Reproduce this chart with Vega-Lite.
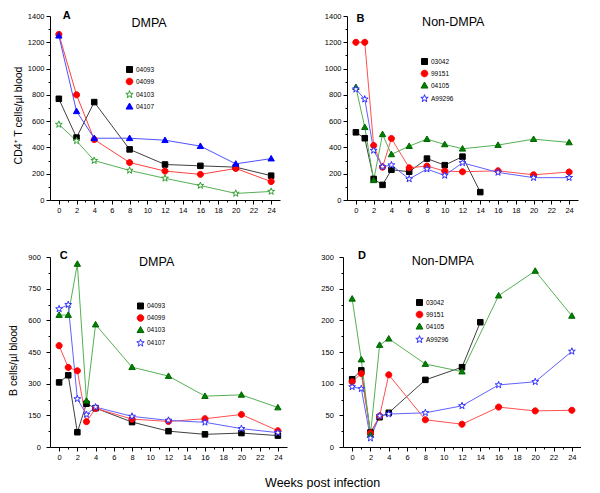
{
  "$schema": "https://vega.github.io/schema/vega-lite/v6.json",
  "padding": {"left": 8, "top": 10, "right": 0, "bottom": 0},
  "config": {
    "view": {"stroke": null},
    "font": "Liberation Sans",
    "axis": {"grid": false, "domainColor": "#000", "tickColor": "#000", "labelColor": "#000", "titleColor": "#000", "labelFontSize": 7.5, "titleFontSize": 10.5, "titleFontWeight": "normal", "labelFont": "Liberation Sans", "titleFont": "Liberation Sans", "tickSize": 4, "labelPadding": 2, "domainWidth": 1, "tickWidth": 1, "labelFlush": false, "labelOverlap": false, "format": "d"},
    "legend": {"orient": "none", "labelFontSize": 6.5, "labelFont": "Liberation Sans", "labelColor": "#000", "symbolStrokeWidth": 1, "rowPadding": 1, "padding": 0, "labelOffset": 1}
  },
  "title": {"text": "Weeks post infection", "orient": "bottom", "anchor": "middle", "dx": 28, "offset": 16, "fontSize": 12.5, "fontWeight": "normal", "font": "Liberation Sans", "color": "#000"},
  "datasets": {
    "A": [
      {"id": "04093", "w": 0, "v": 770}, {"id": "04093", "w": 2, "v": 475}, {"id": "04093", "w": 4, "v": 745}, {"id": "04093", "w": 8, "v": 385}, {"id": "04093", "w": 12, "v": 270}, {"id": "04093", "w": 16, "v": 260}, {"id": "04093", "w": 20, "v": 250}, {"id": "04093", "w": 24, "v": 185},
      {"id": "04099", "w": 0, "v": 1260}, {"id": "04099", "w": 2, "v": 800}, {"id": "04099", "w": 4, "v": 460}, {"id": "04099", "w": 8, "v": 285}, {"id": "04099", "w": 12, "v": 220}, {"id": "04099", "w": 16, "v": 195}, {"id": "04099", "w": 20, "v": 240}, {"id": "04099", "w": 24, "v": 140},
      {"id": "04103", "w": 0, "v": 575}, {"id": "04103", "w": 2, "v": 450}, {"id": "04103", "w": 4, "v": 300}, {"id": "04103", "w": 8, "v": 225}, {"id": "04103", "w": 12, "v": 165}, {"id": "04103", "w": 16, "v": 110}, {"id": "04103", "w": 20, "v": 50}, {"id": "04103", "w": 24, "v": 65},
      {"id": "04107", "w": 0, "v": 1250}, {"id": "04107", "w": 2, "v": 675}, {"id": "04107", "w": 4, "v": 470}, {"id": "04107", "w": 8, "v": 470}, {"id": "04107", "w": 12, "v": 455}, {"id": "04107", "w": 16, "v": 410}, {"id": "04107", "w": 20, "v": 275}, {"id": "04107", "w": 24, "v": 315}
    ],
    "B": [
      {"id": "03042", "w": 0, "v": 515}, {"id": "03042", "w": 1, "v": 470}, {"id": "03042", "w": 2, "v": 160}, {"id": "03042", "w": 3, "v": 115}, {"id": "03042", "w": 4, "v": 230}, {"id": "03042", "w": 6, "v": 215}, {"id": "03042", "w": 8, "v": 315}, {"id": "03042", "w": 10, "v": 265}, {"id": "03042", "w": 12, "v": 330}, {"id": "03042", "w": 14, "v": 60},
      {"id": "99151", "w": 0, "v": 1200}, {"id": "99151", "w": 1, "v": 1200}, {"id": "99151", "w": 2, "v": 415}, {"id": "99151", "w": 3, "v": 250}, {"id": "99151", "w": 4, "v": 468}, {"id": "99151", "w": 6, "v": 245}, {"id": "99151", "w": 8, "v": 258}, {"id": "99151", "w": 10, "v": 220}, {"id": "99151", "w": 12, "v": 215}, {"id": "99151", "w": 16, "v": 222}, {"id": "99151", "w": 20, "v": 192}, {"id": "99151", "w": 24, "v": 213},
      {"id": "04105", "w": 0, "v": 858}, {"id": "04105", "w": 1, "v": 554}, {"id": "04105", "w": 2, "v": 150}, {"id": "04105", "w": 3, "v": 500}, {"id": "04105", "w": 4, "v": 347}, {"id": "04105", "w": 6, "v": 410}, {"id": "04105", "w": 8, "v": 463}, {"id": "04105", "w": 10, "v": 423}, {"id": "04105", "w": 12, "v": 390}, {"id": "04105", "w": 16, "v": 418}, {"id": "04105", "w": 20, "v": 463}, {"id": "04105", "w": 24, "v": 438},
      {"id": "A99296", "w": 0, "v": 843}, {"id": "A99296", "w": 1, "v": 767}, {"id": "A99296", "w": 2, "v": 377}, {"id": "A99296", "w": 3, "v": 253}, {"id": "A99296", "w": 4, "v": 266}, {"id": "A99296", "w": 6, "v": 160}, {"id": "A99296", "w": 8, "v": 235}, {"id": "A99296", "w": 10, "v": 187}, {"id": "A99296", "w": 12, "v": 283}, {"id": "A99296", "w": 16, "v": 210}, {"id": "A99296", "w": 20, "v": 170}, {"id": "A99296", "w": 24, "v": 170}
    ],
    "C": [
      {"id": "04093", "w": 0, "v": 306}, {"id": "04093", "w": 1, "v": 340}, {"id": "04093", "w": 2, "v": 70}, {"id": "04093", "w": 3, "v": 205}, {"id": "04093", "w": 4, "v": 184}, {"id": "04093", "w": 8, "v": 118}, {"id": "04093", "w": 12, "v": 75}, {"id": "04093", "w": 16, "v": 60}, {"id": "04093", "w": 20, "v": 66}, {"id": "04093", "w": 24, "v": 54},
      {"id": "04099", "w": 0, "v": 480}, {"id": "04099", "w": 1, "v": 377}, {"id": "04099", "w": 2, "v": 361}, {"id": "04099", "w": 3, "v": 120}, {"id": "04099", "w": 4, "v": 183}, {"id": "04099", "w": 8, "v": 132}, {"id": "04099", "w": 12, "v": 121}, {"id": "04099", "w": 16, "v": 134}, {"id": "04099", "w": 20, "v": 154}, {"id": "04099", "w": 24, "v": 77},
      {"id": "04103", "w": 0, "v": 625}, {"id": "04103", "w": 1, "v": 625}, {"id": "04103", "w": 2, "v": 867}, {"id": "04103", "w": 3, "v": 219}, {"id": "04103", "w": 4, "v": 580}, {"id": "04103", "w": 8, "v": 378}, {"id": "04103", "w": 12, "v": 336}, {"id": "04103", "w": 16, "v": 241}, {"id": "04103", "w": 20, "v": 247}, {"id": "04103", "w": 24, "v": 187},
      {"id": "04107", "w": 0, "v": 654}, {"id": "04107", "w": 1, "v": 674}, {"id": "04107", "w": 2, "v": 228}, {"id": "04107", "w": 3, "v": 154}, {"id": "04107", "w": 4, "v": 189}, {"id": "04107", "w": 8, "v": 145}, {"id": "04107", "w": 12, "v": 126}, {"id": "04107", "w": 16, "v": 117}, {"id": "04107", "w": 20, "v": 87}, {"id": "04107", "w": 24, "v": 68}
    ],
    "D": [
      {"id": "03042", "w": 0, "v": 107}, {"id": "03042", "w": 1, "v": 121}, {"id": "03042", "w": 2, "v": 23}, {"id": "03042", "w": 3, "v": 47}, {"id": "03042", "w": 4, "v": 54}, {"id": "03042", "w": 8, "v": 106}, {"id": "03042", "w": 12, "v": 126}, {"id": "03042", "w": 14, "v": 197},
      {"id": "99151", "w": 0, "v": 103}, {"id": "99151", "w": 1, "v": 116}, {"id": "99151", "w": 2, "v": 22}, {"id": "99151", "w": 3, "v": 49}, {"id": "99151", "w": 4, "v": 114}, {"id": "99151", "w": 8, "v": 43}, {"id": "99151", "w": 12, "v": 36}, {"id": "99151", "w": 16, "v": 63}, {"id": "99151", "w": 20, "v": 57}, {"id": "99151", "w": 24, "v": 58},
      {"id": "04105", "w": 0, "v": 234}, {"id": "04105", "w": 1, "v": 138}, {"id": "04105", "w": 2, "v": 19}, {"id": "04105", "w": 3, "v": 161}, {"id": "04105", "w": 4, "v": 171}, {"id": "04105", "w": 8, "v": 131}, {"id": "04105", "w": 12, "v": 119}, {"id": "04105", "w": 16, "v": 239}, {"id": "04105", "w": 20, "v": 278}, {"id": "04105", "w": 24, "v": 207},
      {"id": "A99296", "w": 0, "v": 95}, {"id": "A99296", "w": 1, "v": 92}, {"id": "A99296", "w": 2, "v": 14}, {"id": "A99296", "w": 3, "v": 49}, {"id": "A99296", "w": 4, "v": 52}, {"id": "A99296", "w": 8, "v": 54}, {"id": "A99296", "w": 12, "v": 65}, {"id": "A99296", "w": 16, "v": 98}, {"id": "A99296", "w": 20, "v": 103}, {"id": "A99296", "w": 24, "v": 151}
    ]
  },
  "spacing": 35,
  "resolve": {"scale": {"color": "independent", "shape": "independent", "fill": "independent", "stroke": "independent"}, "legend": {"color": "independent", "shape": "independent", "fill": "independent", "stroke": "independent"}},
  "vconcat": [
    {
      "spacing": 44,
      "resolve": {"scale": {"color": "independent", "shape": "independent", "fill": "independent", "stroke": "independent"}, "legend": {"color": "independent", "shape": "independent", "fill": "independent", "stroke": "independent"}},
      "hconcat": [
        {
          "width": 230, "height": 184,
          "layer": [
            {
              "data": {"name": "A"},
              "mark": {"type": "line", "strokeWidth": 1},
              "encoding": {
                "x": {"field": "w", "type": "quantitative", "scale": {"domain": [-1, 25], "nice": false, "zero": false}, "axis": {"title": null, "values": [0,1,2,3,4,5,6,7,8,9,10,11,12,13,14,15,16,17,18,19,20,21,22,23,24], "labelExpr": "datum.value % 2 ? '' : datum.label", "tickSize": {"condition": {"test": "datum.value % 2", "value": 2}, "value": 4}}},
                "y": {"field": "v", "type": "quantitative", "scale": {"domain": [0, 1400], "nice": false}, "axis": {"title": "CD4⁺ T cells/µl blood", "titlePadding": 4, "titleY": 99, "values": [0,100,200,300,400,500,600,700,800,900,1000,1100,1200,1300,1400], "labelExpr": "datum.value % 200 ? '' : datum.label", "tickSize": {"condition": {"test": "datum.value % 200", "value": 2}, "value": 4}}},
                "color": {"field": "id", "type": "nominal", "scale": {"domain": ["04093", "04099", "04103", "04107", "~"], "range": ["#404040", "#ff4040", "#55b055", "#5050ff", "transparent"]}, "legend": null}
              }
            },
            {
              "data": {"name": "A"},
              "mark": {"type": "point", "size": 85, "strokeWidth": 1, "opacity": 1, "filled": true},
              "encoding": {
                "x": {"field": "w", "type": "quantitative", "scale": {"domain": [-1, 25], "nice": false, "zero": false}, "axis": {"title": null, "values": [0,1,2,3,4,5,6,7,8,9,10,11,12,13,14,15,16,17,18,19,20,21,22,23,24], "labelExpr": "datum.value % 2 ? '' : datum.label", "tickSize": {"condition": {"test": "datum.value % 2", "value": 2}, "value": 4}}},
                "y": {"field": "v", "type": "quantitative", "scale": {"domain": [0, 1400], "nice": false}, "axis": {"title": "CD4⁺ T cells/µl blood", "titlePadding": 4, "titleY": 99, "values": [0,100,200,300,400,500,600,700,800,900,1000,1100,1200,1300,1400], "labelExpr": "datum.value % 200 ? '' : datum.label", "tickSize": {"condition": {"test": "datum.value % 200", "value": 2}, "value": 4}}},
                "shape": {"field": "id", "type": "nominal", "scale": {"domain": ["04093", "04099", "04103", "04107"], "range": ["M-0.6,-0.6H0.6V0.6H-0.6Z", "M-0.66,0A0.66,0.66,0,1,0,0.66,0A0.66,0.66,0,1,0,-0.66,0Z", "M0,-0.78L0.18,-0.25L0.74,-0.24L0.29,0.1L0.46,0.63L0,0.31L-0.46,0.63L-0.29,0.1L-0.74,-0.24L-0.18,-0.25Z", "M0,-0.69L0.69,0.51H-0.69Z"]}, "legend": {"title": null, "legendX": 74, "legendY": 48}},
                "fill": {"field": "id", "type": "nominal", "scale": {"domain": ["04093", "04099", "04103", "04107"], "range": ["#000000", "#ff0000", "#ffffff", "#0000ff"]}, "legend": {"title": null, "legendX": 74, "legendY": 48}},
                "stroke": {"field": "id", "type": "nominal", "scale": {"domain": ["04093", "04099", "04103", "04107"], "range": ["#000000", "#ff0000", "#33a033", "#0000ff"]}, "legend": {"title": null, "legendX": 74, "legendY": 48}}
              }
            },
            {"data": {"values": [{}]}, "mark": {"type": "text", "text": "A", "fontSize": 11, "fontWeight": "bold", "align": "left", "baseline": "alphabetic", "color": "#000"}, "encoding": {"x": {"datum": 0.45, "type": "quantitative", "scale": {"domain": [-1, 25], "nice": false, "zero": false}, "axis": {"title": null, "values": [0,1,2,3,4,5,6,7,8,9,10,11,12,13,14,15,16,17,18,19,20,21,22,23,24], "labelExpr": "datum.value % 2 ? '' : datum.label", "tickSize": {"condition": {"test": "datum.value % 2", "value": 2}, "value": 4}}}, "y": {"datum": 1377, "type": "quantitative", "scale": {"domain": [0, 1400], "nice": false}, "axis": {"title": "CD4⁺ T cells/µl blood", "titlePadding": 4, "titleY": 99, "values": [0,100,200,300,400,500,600,700,800,900,1000,1100,1200,1300,1400], "labelExpr": "datum.value % 200 ? '' : datum.label", "tickSize": {"condition": {"test": "datum.value % 200", "value": 2}, "value": 4}}}}},
            {"data": {"values": [{}]}, "mark": {"type": "text", "text": "DMPA", "fontSize": 12.5, "align": "center", "baseline": "alphabetic", "color": "#000"}, "encoding": {"x": {"datum": 10.2, "type": "quantitative", "scale": {"domain": [-1, 25], "nice": false, "zero": false}, "axis": {"title": null, "values": [0,1,2,3,4,5,6,7,8,9,10,11,12,13,14,15,16,17,18,19,20,21,22,23,24], "labelExpr": "datum.value % 2 ? '' : datum.label", "tickSize": {"condition": {"test": "datum.value % 2", "value": 2}, "value": 4}}}, "y": {"datum": 1313, "type": "quantitative", "scale": {"domain": [0, 1400], "nice": false}, "axis": {"title": "CD4⁺ T cells/µl blood", "titlePadding": 4, "titleY": 99, "values": [0,100,200,300,400,500,600,700,800,900,1000,1100,1200,1300,1400], "labelExpr": "datum.value % 200 ? '' : datum.label", "tickSize": {"condition": {"test": "datum.value % 200", "value": 2}, "value": 4}}}}}
          ]
        },
        {
          "width": 231, "height": 184,
          "layer": [
            {
              "data": {"name": "B"},
              "mark": {"type": "line", "strokeWidth": 1},
              "encoding": {
                "x": {"field": "w", "type": "quantitative", "scale": {"domain": [-1, 25], "nice": false, "zero": false}, "axis": {"title": null, "values": [0,1,2,3,4,5,6,7,8,9,10,11,12,13,14,15,16,17,18,19,20,21,22,23,24], "labelExpr": "datum.value % 2 ? '' : datum.label", "tickSize": {"condition": {"test": "datum.value % 2", "value": 2}, "value": 4}}},
                "y": {"field": "v", "type": "quantitative", "scale": {"domain": [0, 1400], "nice": false}, "axis": {"title": null, "values": [0,100,200,300,400,500,600,700,800,900,1000,1100,1200,1300,1400], "labelExpr": "datum.value % 200 ? '' : datum.label", "tickSize": {"condition": {"test": "datum.value % 200", "value": 2}, "value": 4}}},
                "color": {"field": "id", "type": "nominal", "scale": {"domain": ["03042", "99151", "04105", "A99296", "~"], "range": ["#404040", "#ff5050", "#55b055", "#6060ff", "transparent"]}, "legend": null}
              }
            },
            {
              "data": {"name": "B"},
              "mark": {"type": "point", "size": 85, "strokeWidth": 1, "opacity": 1, "filled": true},
              "encoding": {
                "x": {"field": "w", "type": "quantitative", "scale": {"domain": [-1, 25], "nice": false, "zero": false}, "axis": {"title": null, "values": [0,1,2,3,4,5,6,7,8,9,10,11,12,13,14,15,16,17,18,19,20,21,22,23,24], "labelExpr": "datum.value % 2 ? '' : datum.label", "tickSize": {"condition": {"test": "datum.value % 2", "value": 2}, "value": 4}}},
                "y": {"field": "v", "type": "quantitative", "scale": {"domain": [0, 1400], "nice": false}, "axis": {"title": null, "values": [0,100,200,300,400,500,600,700,800,900,1000,1100,1200,1300,1400], "labelExpr": "datum.value % 200 ? '' : datum.label", "tickSize": {"condition": {"test": "datum.value % 200", "value": 2}, "value": 4}}},
                "shape": {"field": "id", "type": "nominal", "scale": {"domain": ["03042", "99151", "04105", "A99296"], "range": ["M-0.6,-0.6H0.6V0.6H-0.6Z", "M-0.66,0A0.66,0.66,0,1,0,0.66,0A0.66,0.66,0,1,0,-0.66,0Z", "M0,-0.69L0.69,0.51H-0.69Z", "M0,-0.78L0.18,-0.25L0.74,-0.24L0.29,0.1L0.46,0.63L0,0.31L-0.46,0.63L-0.29,0.1L-0.74,-0.24L-0.18,-0.25Z"]}, "legend": {"title": null, "legendX": 72, "legendY": 40}},
                "fill": {"field": "id", "type": "nominal", "scale": {"domain": ["03042", "99151", "04105", "A99296"], "range": ["#000000", "#ff0000", "#008000", "#ffffff"]}, "legend": {"title": null, "legendX": 72, "legendY": 40}},
                "stroke": {"field": "id", "type": "nominal", "scale": {"domain": ["03042", "99151", "04105", "A99296"], "range": ["#000000", "#ff0000", "#006600", "#3030ff"]}, "legend": {"title": null, "legendX": 72, "legendY": 40}}
              }
            },
            {"data": {"values": [{}]}, "mark": {"type": "text", "text": "B", "fontSize": 11, "fontWeight": "bold", "align": "left", "baseline": "alphabetic", "color": "#000"}, "encoding": {"x": {"datum": 0.08, "type": "quantitative", "scale": {"domain": [-1, 25], "nice": false, "zero": false}, "axis": {"title": null, "values": [0,1,2,3,4,5,6,7,8,9,10,11,12,13,14,15,16,17,18,19,20,21,22,23,24], "labelExpr": "datum.value % 2 ? '' : datum.label", "tickSize": {"condition": {"test": "datum.value % 2", "value": 2}, "value": 4}}}, "y": {"datum": 1357, "type": "quantitative", "scale": {"domain": [0, 1400], "nice": false}, "axis": {"title": null, "values": [0,100,200,300,400,500,600,700,800,900,1000,1100,1200,1300,1400], "labelExpr": "datum.value % 200 ? '' : datum.label", "tickSize": {"condition": {"test": "datum.value % 200", "value": 2}, "value": 4}}}}},
            {"data": {"values": [{}]}, "mark": {"type": "text", "text": "Non-DMPA", "fontSize": 12.5, "align": "center", "baseline": "alphabetic", "color": "#000"}, "encoding": {"x": {"datum": 10.96, "type": "quantitative", "scale": {"domain": [-1, 25], "nice": false, "zero": false}, "axis": {"title": null, "values": [0,1,2,3,4,5,6,7,8,9,10,11,12,13,14,15,16,17,18,19,20,21,22,23,24], "labelExpr": "datum.value % 2 ? '' : datum.label", "tickSize": {"condition": {"test": "datum.value % 2", "value": 2}, "value": 4}}}, "y": {"datum": 1324, "type": "quantitative", "scale": {"domain": [0, 1400], "nice": false}, "axis": {"title": null, "values": [0,100,200,300,400,500,600,700,800,900,1000,1100,1200,1300,1400], "labelExpr": "datum.value % 200 ? '' : datum.label", "tickSize": {"condition": {"test": "datum.value % 200", "value": 2}, "value": 4}}}}}
          ]
        }
      ]
    },
    {
      "spacing": 33,
      "resolve": {"scale": {"color": "independent", "shape": "independent", "fill": "independent", "stroke": "independent"}, "legend": {"color": "independent", "shape": "independent", "fill": "independent", "stroke": "independent"}},
      "hconcat": [
        {
          "width": 237, "height": 190,
          "layer": [
            {
              "data": {"name": "C"},
              "mark": {"type": "line", "strokeWidth": 1},
              "encoding": {
                "x": {"field": "w", "type": "quantitative", "scale": {"domain": [-1, 25], "nice": false, "zero": false}, "axis": {"title": null, "values": [0,1,2,3,4,5,6,7,8,9,10,11,12,13,14,15,16,17,18,19,20,21,22,23,24], "labelExpr": "datum.value % 2 ? '' : datum.label", "tickSize": {"condition": {"test": "datum.value % 2", "value": 2}, "value": 4}}},
                "y": {"field": "v", "type": "quantitative", "scale": {"domain": [0, 900], "nice": false}, "axis": {"title": "B cells/µl blood", "titlePadding": 9.5, "titleY": 103, "labelPadding": 5.7, "values": [0,75,150,225,300,375,450,525,600,675,750,825,900], "labelExpr": "datum.value % 150 ? '' : datum.label", "tickSize": {"condition": {"test": "datum.value % 150", "value": 2}, "value": 4}}},
                "color": {"field": "id", "type": "nominal", "scale": {"domain": ["04093", "04099", "04103", "04107", "~"], "range": ["#404040", "#ff5050", "#55b055", "#6060ff", "transparent"]}, "legend": null}
              }
            },
            {
              "data": {"name": "C"},
              "mark": {"type": "point", "size": 85, "strokeWidth": 1, "opacity": 1, "filled": true},
              "encoding": {
                "x": {"field": "w", "type": "quantitative", "scale": {"domain": [-1, 25], "nice": false, "zero": false}, "axis": {"title": null, "values": [0,1,2,3,4,5,6,7,8,9,10,11,12,13,14,15,16,17,18,19,20,21,22,23,24], "labelExpr": "datum.value % 2 ? '' : datum.label", "tickSize": {"condition": {"test": "datum.value % 2", "value": 2}, "value": 4}}},
                "y": {"field": "v", "type": "quantitative", "scale": {"domain": [0, 900], "nice": false}, "axis": {"title": "B cells/µl blood", "titlePadding": 9.5, "titleY": 103, "labelPadding": 5.7, "values": [0,75,150,225,300,375,450,525,600,675,750,825,900], "labelExpr": "datum.value % 150 ? '' : datum.label", "tickSize": {"condition": {"test": "datum.value % 150", "value": 2}, "value": 4}}},
                "shape": {"field": "id", "type": "nominal", "scale": {"domain": ["04093", "04099", "04103", "04107"], "range": ["M-0.6,-0.6H0.6V0.6H-0.6Z", "M-0.66,0A0.66,0.66,0,1,0,0.66,0A0.66,0.66,0,1,0,-0.66,0Z", "M0,-0.69L0.69,0.51H-0.69Z", "M0,-0.78L0.18,-0.25L0.74,-0.24L0.29,0.1L0.46,0.63L0,0.31L-0.46,0.63L-0.29,0.1L-0.74,-0.24L-0.18,-0.25Z"]}, "legend": {"title": null, "legendX": 85, "legendY": 43.5}},
                "fill": {"field": "id", "type": "nominal", "scale": {"domain": ["04093", "04099", "04103", "04107"], "range": ["#000000", "#ff0000", "#008000", "#ffffff"]}, "legend": {"title": null, "legendX": 85, "legendY": 43.5}},
                "stroke": {"field": "id", "type": "nominal", "scale": {"domain": ["04093", "04099", "04103", "04107"], "range": ["#000000", "#ff0000", "#006600", "#3030ff"]}, "legend": {"title": null, "legendX": 85, "legendY": 43.5}}
              }
            },
            {"data": {"values": [{}]}, "mark": {"type": "text", "text": "C", "fontSize": 11, "fontWeight": "bold", "align": "left", "baseline": "alphabetic", "color": "#000"}, "encoding": {"x": {"datum": 0.08, "type": "quantitative", "scale": {"domain": [-1, 25], "nice": false, "zero": false}, "axis": {"title": null, "values": [0,1,2,3,4,5,6,7,8,9,10,11,12,13,14,15,16,17,18,19,20,21,22,23,24], "labelExpr": "datum.value % 2 ? '' : datum.label", "tickSize": {"condition": {"test": "datum.value % 2", "value": 2}, "value": 4}}}, "y": {"datum": 889, "type": "quantitative", "scale": {"domain": [0, 900], "nice": false}, "axis": {"title": "B cells/µl blood", "titlePadding": 9.5, "titleY": 103, "labelPadding": 5.7, "values": [0,75,150,225,300,375,450,525,600,675,750,825,900], "labelExpr": "datum.value % 150 ? '' : datum.label", "tickSize": {"condition": {"test": "datum.value % 150", "value": 2}, "value": 4}}}}},
            {"data": {"values": [{}]}, "mark": {"type": "text", "text": "DMPA", "fontSize": 12.5, "align": "center", "baseline": "alphabetic", "color": "#000"}, "encoding": {"x": {"datum": 10.7, "type": "quantitative", "scale": {"domain": [-1, 25], "nice": false, "zero": false}, "axis": {"title": null, "values": [0,1,2,3,4,5,6,7,8,9,10,11,12,13,14,15,16,17,18,19,20,21,22,23,24], "labelExpr": "datum.value % 2 ? '' : datum.label", "tickSize": {"condition": {"test": "datum.value % 2", "value": 2}, "value": 4}}}, "y": {"datum": 856, "type": "quantitative", "scale": {"domain": [0, 900], "nice": false}, "axis": {"title": "B cells/µl blood", "titlePadding": 9.5, "titleY": 103, "labelPadding": 5.7, "values": [0,75,150,225,300,375,450,525,600,675,750,825,900], "labelExpr": "datum.value % 150 ? '' : datum.label", "tickSize": {"condition": {"test": "datum.value % 150", "value": 2}, "value": 4}}}}}
          ]
        },
        {
          "width": 238, "height": 190,
          "layer": [
            {
              "data": {"name": "D"},
              "mark": {"type": "line", "strokeWidth": 1},
              "encoding": {
                "x": {"field": "w", "type": "quantitative", "scale": {"domain": [-1, 25], "nice": false, "zero": false}, "axis": {"title": null, "values": [0,1,2,3,4,5,6,7,8,9,10,11,12,13,14,15,16,17,18,19,20,21,22,23,24], "labelExpr": "datum.value % 2 ? '' : datum.label", "tickSize": {"condition": {"test": "datum.value % 2", "value": 2}, "value": 4}}},
                "y": {"field": "v", "type": "quantitative", "scale": {"domain": [0, 300], "nice": false}, "axis": {"title": null, "labelPadding": 5.7, "values": [0,25,50,75,100,125,150,175,200,225,250,275,300], "labelExpr": "datum.value % 50 ? '' : datum.label", "tickSize": {"condition": {"test": "datum.value % 50", "value": 2}, "value": 4}}},
                "color": {"field": "id", "type": "nominal", "scale": {"domain": ["03042", "99151", "04105", "A99296", "~"], "range": ["#404040", "#ff5050", "#55b055", "#6060ff", "transparent"]}, "legend": null}
              }
            },
            {
              "data": {"name": "D"},
              "mark": {"type": "point", "size": 85, "strokeWidth": 1, "opacity": 1, "filled": true},
              "encoding": {
                "x": {"field": "w", "type": "quantitative", "scale": {"domain": [-1, 25], "nice": false, "zero": false}, "axis": {"title": null, "values": [0,1,2,3,4,5,6,7,8,9,10,11,12,13,14,15,16,17,18,19,20,21,22,23,24], "labelExpr": "datum.value % 2 ? '' : datum.label", "tickSize": {"condition": {"test": "datum.value % 2", "value": 2}, "value": 4}}},
                "y": {"field": "v", "type": "quantitative", "scale": {"domain": [0, 300], "nice": false}, "axis": {"title": null, "labelPadding": 5.7, "values": [0,25,50,75,100,125,150,175,200,225,250,275,300], "labelExpr": "datum.value % 50 ? '' : datum.label", "tickSize": {"condition": {"test": "datum.value % 50", "value": 2}, "value": 4}}},
                "shape": {"field": "id", "type": "nominal", "scale": {"domain": ["03042", "99151", "04105", "A99296"], "range": ["M-0.6,-0.6H0.6V0.6H-0.6Z", "M-0.66,0A0.66,0.66,0,1,0,0.66,0A0.66,0.66,0,1,0,-0.66,0Z", "M0,-0.69L0.69,0.51H-0.69Z", "M0,-0.78L0.18,-0.25L0.74,-0.24L0.29,0.1L0.46,0.63L0,0.31L-0.46,0.63L-0.29,0.1L-0.74,-0.24L-0.18,-0.25Z"]}, "legend": {"title": null, "legendX": 71, "legendY": 40}},
                "fill": {"field": "id", "type": "nominal", "scale": {"domain": ["03042", "99151", "04105", "A99296"], "range": ["#000000", "#ff0000", "#008000", "#ffffff"]}, "legend": {"title": null, "legendX": 71, "legendY": 40}},
                "stroke": {"field": "id", "type": "nominal", "scale": {"domain": ["03042", "99151", "04105", "A99296"], "range": ["#000000", "#ff0000", "#006600", "#3030ff"]}, "legend": {"title": null, "legendX": 71, "legendY": 40}}
              }
            },
            {"data": {"values": [{}]}, "mark": {"type": "text", "text": "D", "fontSize": 11, "fontWeight": "bold", "align": "left", "baseline": "alphabetic", "color": "#000"}, "encoding": {"x": {"datum": 0.65, "type": "quantitative", "scale": {"domain": [-1, 25], "nice": false, "zero": false}, "axis": {"title": null, "values": [0,1,2,3,4,5,6,7,8,9,10,11,12,13,14,15,16,17,18,19,20,21,22,23,24], "labelExpr": "datum.value % 2 ? '' : datum.label", "tickSize": {"condition": {"test": "datum.value % 2", "value": 2}, "value": 4}}}, "y": {"datum": 297, "type": "quantitative", "scale": {"domain": [0, 300], "nice": false}, "axis": {"title": null, "labelPadding": 5.7, "values": [0,25,50,75,100,125,150,175,200,225,250,275,300], "labelExpr": "datum.value % 50 ? '' : datum.label", "tickSize": {"condition": {"test": "datum.value % 50", "value": 2}, "value": 4}}}}},
            {"data": {"values": [{}]}, "mark": {"type": "text", "text": "Non-DMPA", "fontSize": 12.5, "align": "center", "baseline": "alphabetic", "color": "#000"}, "encoding": {"x": {"datum": 9.9, "type": "quantitative", "scale": {"domain": [-1, 25], "nice": false, "zero": false}, "axis": {"title": null, "values": [0,1,2,3,4,5,6,7,8,9,10,11,12,13,14,15,16,17,18,19,20,21,22,23,24], "labelExpr": "datum.value % 2 ? '' : datum.label", "tickSize": {"condition": {"test": "datum.value % 2", "value": 2}, "value": 4}}}, "y": {"datum": 288, "type": "quantitative", "scale": {"domain": [0, 300], "nice": false}, "axis": {"title": null, "labelPadding": 5.7, "values": [0,25,50,75,100,125,150,175,200,225,250,275,300], "labelExpr": "datum.value % 50 ? '' : datum.label", "tickSize": {"condition": {"test": "datum.value % 50", "value": 2}, "value": 4}}}}}
          ]
        }
      ]
    }
  ]
}
